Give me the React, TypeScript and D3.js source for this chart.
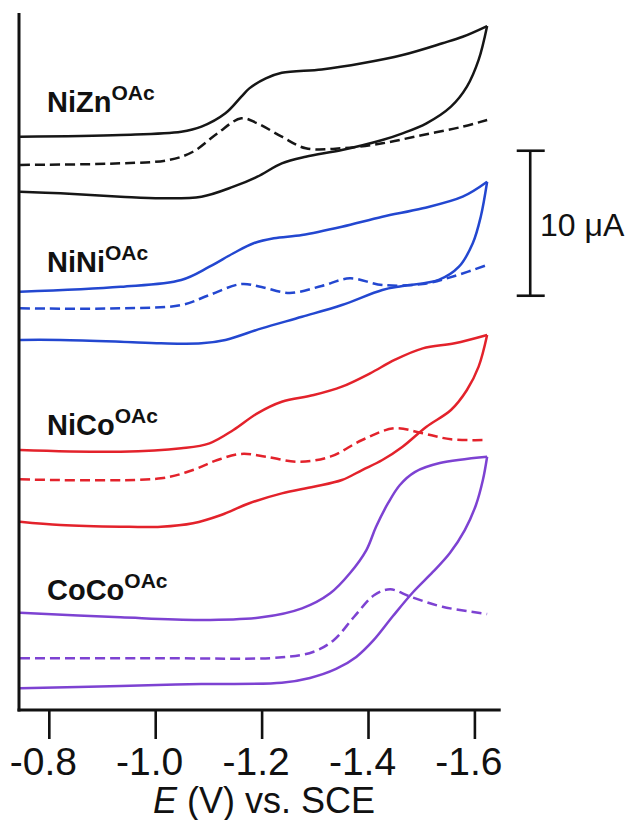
import React, { useEffect } from "react";
import * as d3 from "d3";

// potential (V vs SCE), current (uA, traces offset as in the figure)
const niZnForward = [[-0.745,39.54],[-0.934,39.66],[-1.048,39.88],[-1.086,40.23],[-1.131,41.15],[-1.161,42.3],[-1.176,42.87],[-1.207,43.56],[-1.237,43.95],[-1.312,44.18],[-1.388,44.6],[-1.464,45.17],[-1.539,45.98],[-1.577,46.43],[-1.623,47.17]];
const niZnReturn = [[-1.623,47.17],[-1.607,44.83],[-1.585,42.99],[-1.555,41.61],[-1.509,40.46],[-1.464,39.77],[-1.426,39.31],[-1.35,38.62],[-1.282,38.16],[-1.237,37.7],[-1.191,36.78],[-1.146,36.09],[-1.086,35.4],[-1.01,35.29],[-0.934,35.4],[-0.821,35.63],[-0.745,35.74]];
const niZnDpv = [[-0.745,37.59],[-0.934,37.7],[-1.025,37.93],[-1.07,38.5],[-1.116,39.77],[-1.161,40.81],[-1.191,40.46],[-1.237,39.54],[-1.282,38.74],[-1.35,38.74],[-1.426,39.08],[-1.502,39.66],[-1.577,40.23],[-1.623,40.69]];

const niNiForward = [[-0.745,28.85],[-0.934,29.19],[-1.048,29.66],[-1.101,30.57],[-1.146,31.5],[-1.184,32.19],[-1.222,32.53],[-1.275,32.76],[-1.35,33.33],[-1.426,34.02],[-1.502,34.6],[-1.577,35.4],[-1.623,36.43]];
const niNiReturn = [[-1.623,36.43],[-1.611,34.02],[-1.596,32.19],[-1.57,30.57],[-1.532,29.66],[-1.464,29.24],[-1.426,28.97],[-1.35,27.93],[-1.275,27.12],[-1.199,26.32],[-1.131,25.52],[-1.086,25.29],[-1.01,25.29],[-0.934,25.4],[-0.821,25.52],[-0.745,25.52]];
const niNiDpv = [[-0.745,27.7],[-0.934,27.7],[-1.048,27.93],[-1.101,28.62],[-1.161,29.38],[-1.199,29.17],[-1.252,28.76],[-1.312,29.24],[-1.365,29.77],[-1.426,29.31],[-1.502,29.38],[-1.562,29.93],[-1.623,30.69]];

const niCoForward = [[-0.745,17.93],[-0.934,17.81],[-1.048,18.05],[-1.101,18.39],[-1.146,19.31],[-1.191,20.46],[-1.237,21.26],[-1.297,21.72],[-1.35,22.3],[-1.403,23.22],[-1.449,24.14],[-1.502,24.94],[-1.562,25.29],[-1.623,25.86]];
const niCoReturn = [[-1.623,25.86],[-1.607,23.68],[-1.585,22.07],[-1.555,20.69],[-1.509,19.54],[-1.464,18.16],[-1.426,17.24],[-1.388,16.55],[-1.35,15.86],[-1.297,15.4],[-1.237,14.94],[-1.176,14.26],[-1.123,13.45],[-1.07,12.88],[-1.01,12.64],[-0.934,12.64],[-0.821,12.76],[-0.745,12.99]];
const niCoDpv = [[-0.745,15.91],[-1.01,15.98],[-1.07,16.55],[-1.116,17.24],[-1.161,17.66],[-1.207,17.47],[-1.267,17.12],[-1.328,17.47],[-1.388,18.62],[-1.449,19.43],[-1.502,19.08],[-1.555,18.67],[-1.623,18.62]];

const coCoForward = [[-0.745,6.71],[-0.934,6.39],[-1.086,6.21],[-1.199,6.39],[-1.275,7.01],[-1.328,8.05],[-1.365,9.43],[-1.396,11.03],[-1.414,12.62],[-1.437,14.28],[-1.459,15.52],[-1.487,16.41],[-1.534,17.03],[-1.623,17.47]];
const coCoReturn = [[-1.623,17.47],[-1.615,15.86],[-1.602,14.14],[-1.581,12.41],[-1.553,10.83],[-1.521,9.52],[-1.484,8.14],[-1.446,6.48],[-1.41,4.83],[-1.377,3.66],[-1.339,2.83],[-1.29,2.21],[-1.237,1.88],[-1.086,1.79],[-0.934,1.66],[-0.745,1.5]];
const coCoDpv = [[-0.745,3.57],[-1.01,3.57],[-1.237,3.63],[-1.297,4.02],[-1.335,4.83],[-1.373,6.43],[-1.411,7.93],[-1.441,8.32],[-1.479,7.81],[-1.539,7.12],[-1.623,6.62]];

const xTicks = [-0.8, -1.0, -1.2, -1.4, -1.6];

const series = [
  { name: "NiZn", color: "#161616", solid: [niZnForward, niZnReturn], dashed: niZnDpv, labelY: 112 },
  { name: "NiNi", color: "#2347d0", solid: [niNiForward, niNiReturn], dashed: niNiDpv, labelY: 272 },
  { name: "NiCo", color: "#e3222b", solid: [niCoForward, niCoReturn], dashed: niCoDpv, labelY: 435 },
  { name: "CoCo", color: "#7d42d2", solid: [coCoForward, coCoReturn], dashed: coCoDpv, labelY: 600 },
];

const font = "'Liberation Sans', Arial, Helvetica, sans-serif";

export default function App() {
  useEffect(() => {
    document.body.style.margin = "0";
  }, []);

  const x = d3.scaleLinear().domain([-0.743, -1.6485]).range([19, 500.7]);
  const y = d3.scaleLinear().domain([0, 48]).range([710, 14]);

  const line = d3
    .line<number[]>()
    .x((d) => x(d[0]))
    .y((d) => y(d[1]))
    .curve(d3.curveCatmullRom.alpha(0.5));

  const barX = x(-1.704);

  return (
    <svg width={631} height={820} style={{ display: "block", background: "#fff" }}>
      {series.map((s) => (
        <g key={s.name} fill="none" stroke={s.color} strokeWidth={2.5} strokeLinejoin="round">
          {s.solid.map((branch, i) => (
            <path key={i} d={line(branch) || ""} />
          ))}
          <path d={line(s.dashed) || ""} strokeDasharray="10,5" />
        </g>
      ))}

      {series.map((s) => (
        <text key={s.name + "l"} x={47} y={s.labelY} fontFamily={font} fontWeight="bold" fontSize={29} fill="#111">
          {s.name}
          <tspan dy={-12} fontSize={21}>OAc</tspan>
        </text>
      ))}

      {/* axes */}
      <line x1={19} x2={19} y1={13} y2={711.5} stroke="#111" strokeWidth={3} />
      <line x1={17.5} x2={x(-1.6485)} y1={710} y2={710} stroke="#111" strokeWidth={3} />
      {xTicks.map((t) => (
        <g key={t}>
          <line x1={x(t)} x2={x(t)} y1={710} y2={739} stroke="#111" strokeWidth={2.6} />
          <text x={x(t) - 6} y={775} textAnchor="middle" fontFamily={font} fontSize={39} fill="#111">
            {d3.format(".1f")(t).replace("−", "-")}
          </text>
        </g>
      ))}
      <text x={264} y={813} textAnchor="middle" fontFamily={font} fontSize={36} fill="#111">
        <tspan fontStyle="italic">E</tspan> (V) vs. SCE
      </text>

      {/* 10 uA scale bar */}
      <g stroke="#111" strokeWidth={2.6}>
        <line x1={barX} x2={barX} y1={y(38.57)} y2={y(28.57)} />
        <line x1={barX - 13.5} x2={barX + 14.5} y1={y(38.57)} y2={y(38.57)} />
        <line x1={barX - 13.5} x2={barX + 14.5} y1={y(28.57)} y2={y(28.57)} />
      </g>
      <text x={540} y={236} fontFamily={font} fontSize={32} fill="#111">
        10 μA
      </text>
    </svg>
  );
}
